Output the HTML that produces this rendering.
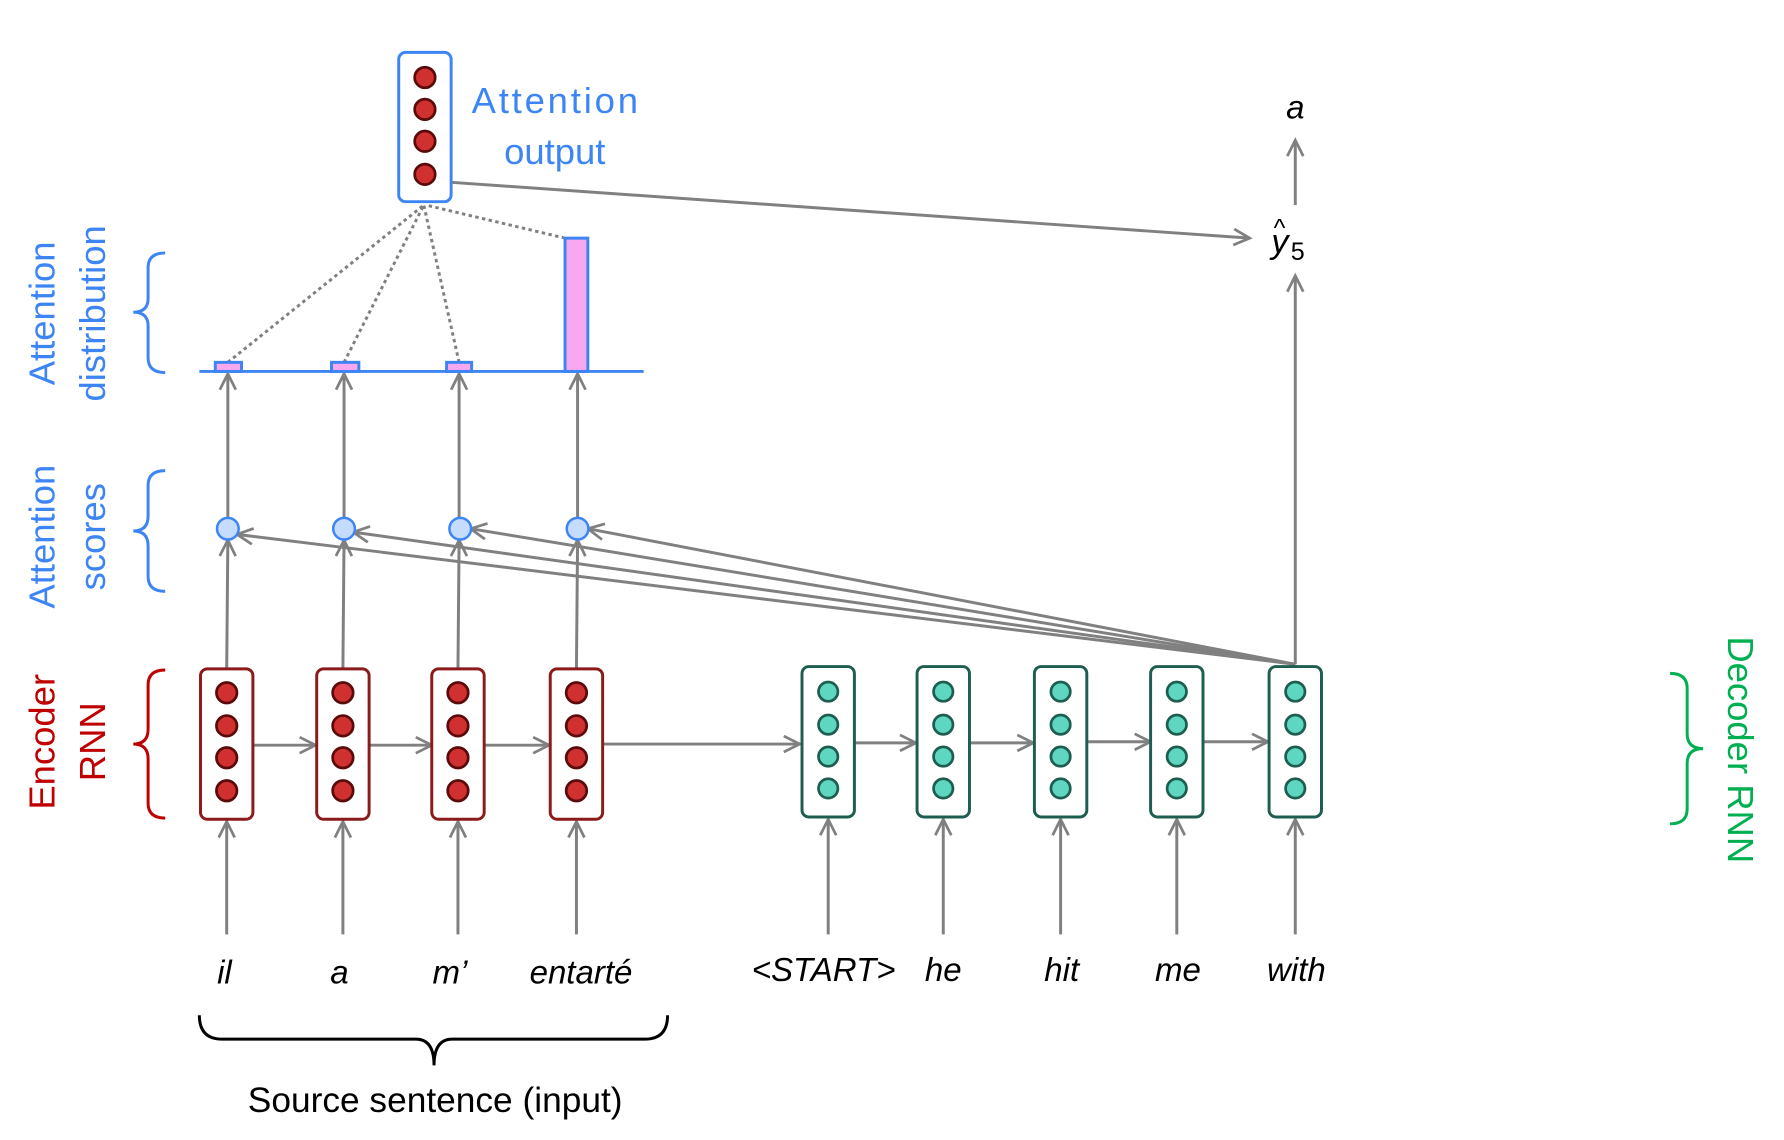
<!DOCTYPE html>
<html><head><meta charset="utf-8"><style>
html,body{margin:0;padding:0;background:#fff;}
svg{display:block;}
text{font-family:"Liberation Sans",sans-serif;}
</style></head><body>
<svg width="1784" height="1140" viewBox="0 0 1566 1000.5" preserveAspectRatio="none" xmlns="http://www.w3.org/2000/svg">
<defs>
<marker id="ar" markerWidth="18" markerHeight="18" refX="15" refY="9" orient="auto" markerUnits="userSpaceOnUse">
<path d="M1,2 L15,9 L1,16" fill="none" stroke="#808080" stroke-width="2.4"/>
</marker>
</defs>
<g stroke="#808080" stroke-width="2.6" fill="none" marker-end="url(#ar)">
<line x1="199" y1="820" x2="199" y2="721"/>
<line x1="301" y1="820" x2="301" y2="721"/>
<line x1="402" y1="820" x2="402" y2="721"/>
<line x1="506" y1="820" x2="506" y2="721"/>
<line x1="727" y1="820" x2="727" y2="719"/>
<line x1="828" y1="820" x2="828" y2="719"/>
<line x1="931" y1="820" x2="931" y2="719"/>
<line x1="1033" y1="820" x2="1033" y2="719"/>
<line x1="1137" y1="820" x2="1137" y2="719"/>
<line x1="222" y1="654" x2="277" y2="654"/>
<line x1="324" y1="654" x2="379" y2="654"/>
<line x1="425" y1="654" x2="482" y2="654"/>
<line x1="529" y1="653" x2="702" y2="653"/>
<line x1="750" y1="652" x2="804" y2="652"/>
<line x1="851" y1="652" x2="907" y2="652"/>
<line x1="954" y1="651" x2="1010" y2="651"/>
<line x1="1057" y1="651" x2="1113" y2="651"/>
<line x1="199" y1="587" x2="200" y2="474"/>
<line x1="301" y1="587" x2="302" y2="474"/>
<line x1="402" y1="587" x2="403" y2="474"/>
<line x1="506" y1="587" x2="507" y2="474"/>
<line x1="200" y1="455" x2="200" y2="328"/>
<line x1="302" y1="455" x2="302" y2="328"/>
<line x1="403" y1="455" x2="403" y2="328"/>
<line x1="507" y1="455" x2="507" y2="328"/>
<line x1="1137" y1="583" x2="208" y2="469"/>
<line x1="1137" y1="583" x2="310" y2="467"/>
<line x1="1137" y1="583" x2="413" y2="464"/>
<line x1="1137" y1="583" x2="516" y2="464"/>
<line x1="1137" y1="583" x2="1137" y2="242"/>
<line x1="1137" y1="180" x2="1137" y2="123"/>
<line x1="396" y1="160" x2="1097" y2="209"/>
</g>
<g stroke="#808080" stroke-width="2.6" stroke-dasharray="3,3" fill="none">
<line x1="200" y1="318" x2="372" y2="180"/>
<line x1="302" y1="318" x2="372" y2="180"/>
<line x1="403" y1="318" x2="372" y2="180"/>
<line x1="496" y1="209" x2="374" y2="180"/>
</g>
<line x1="175" y1="326" x2="565" y2="326" stroke="#3d85f5" stroke-width="2.6"/>
<g fill="#f9a8f0" stroke="#3d85f5" stroke-width="2.6">
<rect x="189" y="318" width="23" height="8"/>
<rect x="291" y="318" width="24" height="8"/>
<rect x="392" y="318" width="22" height="8"/>
<rect x="496" y="209" width="20" height="117"/>
</g>
<g fill="#c6dcff" stroke="#3d85f5" stroke-width="2.2">
<circle cx="200" cy="464" r="9.5"/><circle cx="302" cy="464" r="9.5"/>
<circle cx="404" cy="464" r="9.5"/><circle cx="507" cy="464" r="9.5"/>
</g>
<g fill="#fff" stroke="#8b1a1a" stroke-width="2.6">
<rect x="176" y="587" width="46" height="132" rx="6"/>
<rect x="278" y="587" width="46" height="132" rx="6"/>
<rect x="379" y="587" width="46" height="132" rx="6"/>
<rect x="483" y="587" width="46" height="132" rx="6"/>
</g>
<g fill="#d03030" stroke="#5a0a0a" stroke-width="2.4">
<circle cx="199" cy="608" r="9"/><circle cx="199" cy="637" r="9"/><circle cx="199" cy="665" r="9"/><circle cx="199" cy="694" r="9"/>
<circle cx="301" cy="608" r="9"/><circle cx="301" cy="637" r="9"/><circle cx="301" cy="665" r="9"/><circle cx="301" cy="694" r="9"/>
<circle cx="402" cy="608" r="9"/><circle cx="402" cy="637" r="9"/><circle cx="402" cy="665" r="9"/><circle cx="402" cy="694" r="9"/>
<circle cx="506" cy="608" r="9"/><circle cx="506" cy="637" r="9"/><circle cx="506" cy="665" r="9"/><circle cx="506" cy="694" r="9"/>
</g>
<g fill="#fff" stroke="#1e5e50" stroke-width="2.6">
<rect x="704" y="585" width="46" height="132" rx="6"/>
<rect x="805" y="585" width="46" height="132" rx="6"/>
<rect x="908" y="585" width="46" height="132" rx="6"/>
<rect x="1010" y="585" width="46" height="132" rx="6"/>
<rect x="1114" y="585" width="46" height="132" rx="6"/>
</g>
<g fill="#5fd6c0" stroke="#1e5e50" stroke-width="2.4">
<circle cx="727" cy="607" r="8.5"/><circle cx="727" cy="636" r="8.5"/><circle cx="727" cy="664" r="8.5"/><circle cx="727" cy="692" r="8.5"/>
<circle cx="828" cy="607" r="8.5"/><circle cx="828" cy="636" r="8.5"/><circle cx="828" cy="664" r="8.5"/><circle cx="828" cy="692" r="8.5"/>
<circle cx="931" cy="607" r="8.5"/><circle cx="931" cy="636" r="8.5"/><circle cx="931" cy="664" r="8.5"/><circle cx="931" cy="692" r="8.5"/>
<circle cx="1033" cy="607" r="8.5"/><circle cx="1033" cy="636" r="8.5"/><circle cx="1033" cy="664" r="8.5"/><circle cx="1033" cy="692" r="8.5"/>
<circle cx="1137" cy="607" r="8.5"/><circle cx="1137" cy="636" r="8.5"/><circle cx="1137" cy="664" r="8.5"/><circle cx="1137" cy="692" r="8.5"/>
</g>
<rect x="350" y="46" width="46" height="131" rx="6" fill="#fff" stroke="#3d85f5" stroke-width="2.6"/>
<g fill="#d03030" stroke="#5a0a0a" stroke-width="2.4">
<circle cx="373" cy="68" r="9"/><circle cx="373" cy="96" r="9"/><circle cx="373" cy="124" r="9"/><circle cx="373" cy="153" r="9"/>
</g>
<text x="487" y="99" font-size="32" fill="#3d85f5" text-anchor="middle" textLength="146">Attention</text>
<text x="487" y="144" font-size="32" fill="#3d85f5" text-anchor="middle">output</text>
<g fill="none" stroke-width="2.6">
<path d="M145,222 Q130,222 130,235 L130,262 Q130,274 117,274 Q130,274 130,286 L130,314 Q130,327 145,327" stroke="#3d85f5"/>
<path d="M145,413 Q130,413 130,426 L130,453 Q130,466 117,466 Q130,466 130,479 L130,506 Q130,519 145,519" stroke="#3d85f5"/>
<path d="M145,588 Q130,588 130,601 L130,640 Q130,653 117,653 Q130,653 130,666 L130,705 Q130,718 145,718" stroke="#c00000"/>
<path d="M1466,591 Q1481,591 1481,604 L1481,644 Q1481,657 1495,657 Q1481,657 1481,670 L1481,710 Q1481,723 1466,723" stroke="#00b050"/>
<path d="M175,891 Q175,912 195,912 L365,912 Q381,912 381,935 Q381,912 397,912 L566,912 Q586,912 586,891" stroke="#000"/>
</g>
<text transform="translate(48,275) rotate(-90)" font-size="32" fill="#3d85f5" text-anchor="middle">Attention</text>
<text transform="translate(92,275) rotate(-90)" font-size="32" fill="#3d85f5" text-anchor="middle">distribution</text>
<text transform="translate(48,471) rotate(-90)" font-size="32" fill="#3d85f5" text-anchor="middle">Attention</text>
<text transform="translate(92,471) rotate(-90)" font-size="32" fill="#3d85f5" text-anchor="middle">scores</text>
<text transform="translate(48,651) rotate(-90)" font-size="32" fill="#c00000" text-anchor="middle">Encoder</text>
<text transform="translate(92,651) rotate(-90)" font-size="32" fill="#c00000" text-anchor="middle">RNN</text>
<text transform="translate(1517,658) rotate(90)" font-size="32" fill="#00b050" text-anchor="middle">Decoder RNN</text>
<g font-size="29" font-style="italic" fill="#000" text-anchor="middle">
<text x="197" y="863">il</text>
<text x="298" y="863">a</text>
<text x="395" y="863">m’</text>
<text x="510" y="863">entarté</text>
<text x="723" y="861">&lt;START&gt;</text>
<text x="828" y="861">he</text>
<text x="932" y="861">hit</text>
<text x="1034" y="861">me</text>
<text x="1138" y="861">with</text>
<text x="1137" y="104">a</text>
</g>
<text x="382" y="976" font-size="31" fill="#000" text-anchor="middle">Source sentence (input)</text>
<text x="1116" y="222" font-size="30" font-style="italic" font-family="Liberation Serif,serif" fill="#000">y</text>
<text x="1118" y="207" font-size="22" font-family="Liberation Serif,serif" fill="#000">^</text>
<text x="1133" y="228" font-size="22" font-family="Liberation Serif,serif" fill="#000">5</text>
</svg>
</body></html>
